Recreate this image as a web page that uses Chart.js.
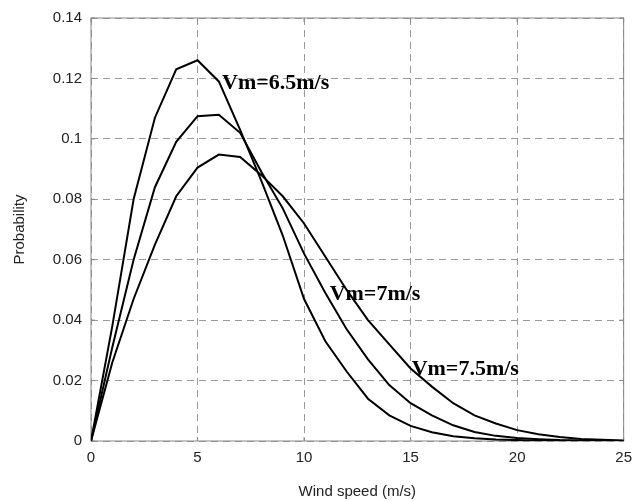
<!DOCTYPE html>
<html>
<head>
<meta charset="utf-8">
<title>Wind speed probability</title>
<script src="https://cdn.jsdelivr.net/npm/chart.js@4.4.1/dist/chart.umd.min.js"></script>
<style>
  body { margin: 0; background: #fff; }
  canvas { display: block; }
</style>
</head>
<body>
<canvas id="wind-chart" width="640" height="501"></canvas>
<script>
// wind speed (m/s), one point per integer speed
const speeds = [0, 1, 2, 3, 4, 5, 6, 7, 8, 9, 10, 11, 12, 13, 14, 15, 16, 17, 18, 19, 20, 21, 22, 23, 24, 25];

// probability, per mean speed
const vm65 = [0, 0.038, 0.080, 0.107, 0.123, 0.126, 0.119, 0.103, 0.086, 0.068, 0.047, 0.033, 0.023, 0.014, 0.0085, 0.005, 0.0029, 0.0016, 0.0009, 0.0005, 0.0003, 0.0001, 0.0001, 0, 0, 0];
const vm7 = [0, 0.031, 0.060, 0.084, 0.099, 0.1075, 0.108, 0.102, 0.089, 0.077, 0.062, 0.049, 0.037, 0.027, 0.0185, 0.0125, 0.0085, 0.0052, 0.003, 0.0017, 0.001, 0.0006, 0.0003, 0.0002, 0.0001, 0];
const vm75 = [0, 0.026, 0.047, 0.065, 0.081, 0.0905, 0.0948, 0.094, 0.088, 0.081, 0.072, 0.061, 0.050, 0.040, 0.032, 0.024, 0.018, 0.0125, 0.0085, 0.0058, 0.0036, 0.0022, 0.0013, 0.0007, 0.0004, 0.0002];

const seriesNames = ['Vm=6.5m/s', 'Vm=7m/s', 'Vm=7.5m/s'];
const yTickLabels = ['0', '0.02', '0.04', '0.06', '0.08', '0.1', '0.12', '0.14'];
const xTickLabels = ['0', '5', '10', '15', '20', '25'];

function toPoints(values) {
  return speeds.map((s, i) => ({ x: s, y: values[i] }));
}

// names written beside the curves, anchored in data units
const curveTags = {
  id: 'curveTags',
  afterDatasetsDraw(chart, args, opts) {
    const { ctx, scales: { x, y } } = chart;
    ctx.save();
    ctx.font = 'bold 22px "Liberation Serif", "Times New Roman", serif';
    ctx.fillStyle = '#000';
    ctx.textBaseline = 'alphabetic';
    opts.spots.forEach((p, i) => {
      ctx.fillText(seriesNames[i], x.getPixelForValue(p[0]), y.getPixelForValue(p[1]));
    });
    ctx.restore();
  }
};

// box round the plot + short inward tick marks
const frame = {
  id: 'frame',
  beforeDatasetsDraw(chart) {
    const { ctx, chartArea: a, scales: { x, y } } = chart;
    ctx.save();
    ctx.strokeStyle = '#888';
    ctx.lineWidth = 1;
    ctx.strokeRect(a.left, a.top, a.right - a.left, a.bottom - a.top);
    ctx.beginPath();
    x.ticks.forEach(t => {
      const px = x.getPixelForValue(t.value);
      ctx.moveTo(px, a.bottom); ctx.lineTo(px, a.bottom - 4);
      ctx.moveTo(px, a.top); ctx.lineTo(px, a.top + 4);
    });
    y.ticks.forEach(t => {
      const py = y.getPixelForValue(t.value);
      ctx.moveTo(a.left, py); ctx.lineTo(a.left + 4, py);
      ctx.moveTo(a.right, py); ctx.lineTo(a.right - 4, py);
    });
    ctx.stroke();
    ctx.restore();
  }
};

const line = (values) => ({
  data: toPoints(values),
  borderColor: '#000',
  borderWidth: 2,
  pointRadius: 0,
  tension: 0,
  fill: false
});

const axisFont = { family: '"Liberation Sans", Arial, sans-serif', size: 15 };

const ctx = document.getElementById('wind-chart').getContext('2d');
new Chart(ctx, {
  type: 'line',
  data: {
    datasets: [line(vm65), line(vm7), line(vm75)]
  },
  options: {
    responsive: false,
    animation: false,
    layout: { padding: { left: 0, top: 17, right: 12, bottom: 0 } },
    plugins: {
      legend: { display: false },
      tooltip: { enabled: false },
      curveTags: { spots: [[6.15, 0.1165], [11.2, 0.0466], [15.05, 0.0218]] }
    },
    scales: {
      x: {
        type: 'linear',
        min: 0,
        max: 25,
        afterFit: (s) => { s.height = 60; },
        ticks: {
          stepSize: 5,
          padding: 8,
          color: '#222',
          font: axisFont,
          maxRotation: 0,
          callback: (v, i) => xTickLabels[i] ?? v
        },
        grid: { color: '#9a9a9a', lineWidth: 1, drawTicks: false },
        border: { display: false, dash: [7, 5] },
        title: { display: true, text: 'Wind speed (m/s)', color: '#222', font: axisFont, padding: { top: 2, bottom: 0 } }
      },
      y: {
        min: 0,
        max: 0.14,
        afterFit: (s) => { s.width = 91; },
        ticks: {
          stepSize: 0.02,
          padding: 9,
          color: '#222',
          font: axisFont,
          callback: (v, i) => yTickLabels[i] ?? v
        },
        grid: { color: '#9a9a9a', lineWidth: 1, drawTicks: false },
        border: { display: false, dash: [7, 5] },
        title: { display: true, text: 'Probability', color: '#222', font: axisFont, padding: { top: 11, bottom: 0 } }
      }
    }
  },
  plugins: [frame, curveTags]
});
</script>
</body>
</html>
